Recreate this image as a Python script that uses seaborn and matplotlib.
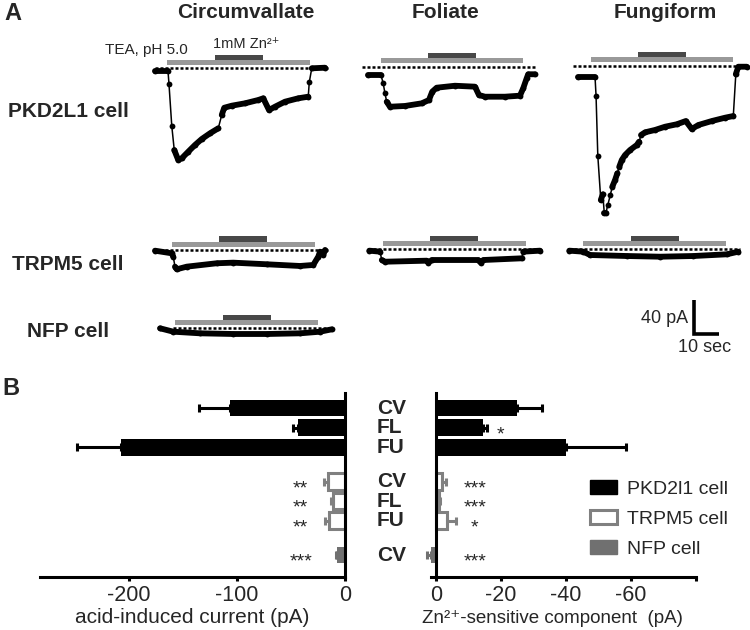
import matplotlib
matplotlib.use("Agg")
import matplotlib.pyplot as plt
import numpy as np
import pandas as pd
import seaborn as sns
from matplotlib.patches import Patch

# ---- panel A: representative current traces (time in s, current in pA) ----
CV_PKD_T = [0, 5.2, 5.6, 6.7, 7.7, 9.3, 10.7, 13.3, 16.0, 18.7, 22.0, 25.3, 26.7, 27.7,
            30.7, 36.0, 41.3, 43.3, 45.6, 48.0, 52.0, 57.3, 61.3, 61.7, 62.7, 68.0]
CV_PKD_I = [-3.2, -3.2, -18.8, -67.5, -96.1, -107.9, -105.9, -98.1, -90.2, -83.2, -76.5,
            -70.6, -54.9, -46.4, -44.0, -41.2, -37.3, -35.3, -49.1, -45.2, -39.3, -35.3,
            -33.4, -16.5, 0.0, 0.7]

FL_PKD_T = [2.4, 7.7, 8.6, 9.3, 10.0, 11.3, 17.3, 24.0, 26.9, 28.2, 30.0, 37.3, 45.3,
            46.9, 49.3, 57.3, 63.3, 64.6, 66.0, 66.6, 69.3]
FL_PKD_I = [-9.8, -9.8, -19.5, -31.3, -41.2, -47.1, -46.2, -43.1, -39.2, -29.4, -24.7,
            -22.4, -23.5, -33.3, -35.3, -35.3, -34.1, -25.4, -13.6, -8.9, -8.9]

FU_PKD_T = [1.8, 8.7, 9.1, 9.8, 11.0, 11.8, 12.4, 13.0, 13.8, 14.8, 15.6, 16.7, 17.6,
            18.4, 19.4, 20.7, 22.7, 25.4, 26.3, 27.1, 28.7, 32.7, 36.7, 41.4, 45.0, 47.4,
            50.0, 55.4, 60.7, 64.0, 65.0, 66.0, 69.4]
FU_PKD_I = [-13.6, -13.6, -35.3, -105.9, -158.0, -151.3, -173.6, -173.6, -163.9, -152.1,
            -142.4, -134.5, -126.6, -118.8, -110.9, -105.1, -99.2, -93.3, -89.4, -81.5,
            -78.4, -75.6, -71.8, -68.9, -65.1, -74.5, -69.8, -65.1, -61.2, -59.2, -10.1,
            -1.2, -1.2]

CV_TRPM5_T = [0, 6.7, 7.3, 8.0, 8.7, 12.7, 24.7, 31.3, 44.7, 58.0, 63.3, 65.3, 66.0, 67.3, 68.0]
CV_TRPM5_I = [-0.8, -3.9, -7.9, -19.6, -22.7, -19.6, -15.6, -14.9, -16.8, -18.8, -17.6,
              -7.9, -2.0, -5.9, 0.0]

FL_TRPM5_T = [0.4, 4.7, 5.4, 6.7, 23.4, 24.0, 25.4, 44.0, 45.0, 46.0, 61.4, 62.0, 68.7]
FL_TRPM5_I = [-1.6, -2.8, -12.6, -14.6, -13.4, -15.8, -12.6, -12.6, -15.8, -12.6, -10.6,
              -2.8, -1.6]

FU_TRPM5_T = [0, 5.6, 8.3, 23.0, 36.3, 49.6, 63.0, 67.6]
FU_TRPM5_I = [-1.6, -2.8, -6.7, -7.9, -8.7, -7.9, -5.9, -2.8]

CV_NFP_T = [-5.3, 0, 10.7, 24.0, 37.4, 50.7, 58.7, 63.4]
CV_NFP_I = [0, -4.0, -5.9, -6.7, -6.7, -5.9, -4.0, -1.2]

# solution application windows (s): TEA pH 5.0 and 1 mM Zn2+
TEA_WIN = [(4.8, 62.0), (7.7, 64.5), (7.1, 64.0), (6.7, 64.0), (5.8, 63.0), (5.6, 62.6), (0.7, 58.0)]
ZN_WIN = [(24.0, 43.2), (26.6, 45.6), (26.0, 45.0), (25.6, 44.7), (24.7, 44.0), (24.6, 43.9), (19.8, 39.0)]
BASE_SPAN = [69.2, 70.0, 69.4, 69.2, 68.7, 68.3, 64.0]

# ---- panel B: summary bars ----
GLANDS = ["CV", "FL", "FU", "CV", "FL", "FU", "CV"]
CELLS = ["PKD2l1 cell"] * 3 + ["TRPM5 cell"] * 3 + ["NFP cell"]
CELL_ORDER = ["PKD2l1 cell", "TRPM5 cell", "NFP cell"]
ACID_MEAN = [-106, -43, -207, -16, -11, -15, -7]
ACID_SEM = [29, 5, 41, 3, 2, 3.5, 1]
ZN_MEAN = [-25, -14.5, -40, -2, -1, -3.3, 1.5]
ZN_SEM = [7.5, 1.2, 18.5, 1, 0.3, 3, 1.2]
ACID_STARS = ["", "", "", "**", "**", "**", "***"]
ZN_STARS = ["", "*", "", "***", "***", "*", "***"]

sns.set_style("ticks")
plt.rcParams["font.family"] = ["Liberation Sans", "DejaVu Sans"]

W, H = 750, 630
fig = plt.figure(figsize=(7.5, 6.3), dpi=100)


def fx(px):
    return px / W


def fy(py):
    return 1 - py / H


# trace scale: pixels per second and per pA
PX_S = 2.5
PX_PA = 0.85
T_LO, T_HI = -10, 80
I_LO, I_HI = -200, 25
LIGHT = "#999999"
DARK = "#484848"


def draw_trace(x0, base, t, cur, span, tea, zn):
    ax = fig.add_axes([fx(x0 + T_LO * PX_S), fy(base - I_LO * PX_PA),
                       (T_HI - T_LO) * PX_S / W, (I_HI - I_LO) * PX_PA / H])
    ax.set_xlim(T_LO, T_HI)
    ax.set_ylim(I_LO, I_HI)
    ax.axis("off")
    ax.patch.set_alpha(0)

    ax.broken_barh([(tea[0], tea[1] - tea[0])], (4.0, 6.0), facecolors=LIGHT, linewidth=0)
    ax.broken_barh([(zn[0], zn[1] - zn[0])], (10.0, 6.0), facecolors=DARK, linewidth=0)
    ax.plot([0, span], [0, 0], color="k", lw=1.8, ls=(0, (1.2, 0.8)), zorder=4)

    t = np.array(t, dtype=float)
    cur = np.array(cur, dtype=float)
    sns.lineplot(x=t, y=cur, ax=ax, color="k", linewidth=1.1, marker="o",
                 markersize=4.2, markeredgewidth=0, estimator=None, sort=False)

    # slow parts of the record look like a thick band of overlapping samples
    slow = np.abs(np.diff(cur) / np.diff(t)) < 9
    i = 0
    while i < len(slow):
        if slow[i]:
            j = i
            while j < len(slow) and slow[j]:
                j += 1
            ax.plot(t[i:j + 1], cur[i:j + 1], color="k", lw=4.2,
                    solid_capstyle="round", solid_joinstyle="round")
            i = j
        else:
            i += 1
    return ax


traces = [
    (155.0, 68.3, CV_PKD_T, CV_PKD_I),
    (361.7, 66.7, FL_PKD_T, FL_PKD_I),
    (573.3, 65.7, FU_PKD_T, FU_PKD_I),
    (155.0, 250.0, CV_TRPM5_T, CV_TRPM5_I),
    (368.3, 249.3, FL_TRPM5_T, FL_TRPM5_I),
    (569.3, 249.3, FU_TRPM5_T, FU_TRPM5_I),
    (173.3, 328.3, CV_NFP_T, CV_NFP_I),
]
trace_axes = []
for k, (x0, base, t, cur) in enumerate(traces):
    trace_axes.append(draw_trace(x0, base, t, cur, BASE_SPAN[k], TEA_WIN[k], ZN_WIN[k]))

# scale bar: 40 pA / 10 sec
sb = trace_axes[5]
sb.plot([50, 50, 60], [-59.6, -99.6, -99.6], color="k", lw=2.6,
        solid_joinstyle="miter", solid_capstyle="butt")
sb.text(47.5, -87.1, "40 pA", ha="right", va="baseline", fontsize=13)
sb.text(54.3, -120.5, "10 sec", ha="center", va="baseline", fontsize=13)

fig.text(fx(188), fy(54), "TEA, pH 5.0", ha="right", va="baseline", fontsize=11)
fig.text(fx(213), fy(48), "1mM Zn²⁺", ha="left", va="baseline", fontsize=10.5)

fig.text(fx(4), fy(20), "A", fontsize=17, fontweight="bold", va="baseline")
fig.text(fx(2), fy(395), "B", fontsize=17, fontweight="bold", va="baseline")
for name, cx in [("Circumvallate", 246), ("Foliate", 445), ("Fungiform", 665)]:
    fig.text(fx(cx), fy(18.3), name, ha="center", va="baseline", fontsize=15, fontweight="bold")
for name, by in [("PKD2L1 cell", 116.7), ("TRPM5 cell", 270), ("NFP cell", 336.7)]:
    fig.text(fx(68), fy(by), name, ha="center", va="baseline", fontsize=15, fontweight="bold")

# ---- panel B ----
POS = [0, 1, 2, 3.75, 4.75, 5.75, 7.5]
df = pd.DataFrame({"pos": POS, "gland": GLANDS, "cell": CELLS,
                   "acid": ACID_MEAN, "acid_sem": ACID_SEM,
                   "zn": ZN_MEAN, "zn_sem": ZN_SEM})
palette = {"PKD2l1 cell": "black", "TRPM5 cell": "white", "NFP cell": "#707070"}
err_colors = {"PKD2l1 cell": "black", "TRPM5 cell": "#808080", "NFP cell": "#707070"}
YLIM = (8.62, -0.77)


def bar_panel(ax, col, sem_col):
    sns.barplot(data=df, x=col, y="pos", hue="cell", hue_order=CELL_ORDER,
                palette=palette, orient="h", native_scale=True, dodge=False,
                width=0.85, errorbar=None, legend=False, linewidth=0, ax=ax)
    for bar in ax.patches:
        bar.set_clip_on(False)
        if tuple(bar.get_facecolor()[:3]) == (1.0, 1.0, 1.0):
            bar.set_edgecolor("#808080")
            bar.set_linewidth(2.2)
    for cell in CELL_ORDER:
        sub = df[df["cell"] == cell]
        neg = sub[col] < 0
        lo = np.where(neg, sub[sem_col], 0)
        hi = np.where(neg, 0, sub[sem_col])
        ax.errorbar(sub[col], sub["pos"], xerr=[lo, hi], fmt="none",
                    ecolor=err_colors[cell], elinewidth=2.2, capsize=2.9,
                    capthick=2.2, clip_on=False)
    ax.set_ylim(*YLIM)
    ax.set_yticks([])
    ax.set_ylabel("")
    ax.tick_params(axis="x", width=2.2, length=3, labelsize=15.5, pad=3, color="k")
    for s in ax.spines.values():
        s.set_linewidth(2.2)
        s.set_color("k")


axL = fig.add_axes([fx(40), fy(577), (345 - 40) / W, (577 - 393) / H])
bar_panel(axL, "acid", "acid_sem")
axL.set_xlim(-282, 0)
sns.despine(ax=axL, left=True, right=False)
axL.set_xticks([-200, -100, 0], ["-200", "-100", "0"])
axL.set_xlabel("acid-induced current (pA)", fontsize=15, labelpad=1.5)
for p, s in zip(POS, ACID_STARS):
    if s:
        axL.text(-41, p + 0.36, s, ha="center", va="center", fontsize=14)

axR = fig.add_axes([fx(431), fy(577), (696 - 431) / W, (577 - 393) / H])
bar_panel(axR, "zn", "zn_sem")
axR.set_xlim(1.5, -80)
sns.despine(ax=axR)
axR.spines["left"].set_position(("data", 0))
axR.set_xticks([0, -20, -40, -60, -80], ["0", "-20", "-40", "-60", ""])
axR.set_xlabel("Zn²⁺-sensitive component  (pA)", fontsize=13.5, labelpad=2.5, x=0.457)
zn_star_x = [0, -20, 0, -12, -12, -12, -12]
for p, s, sx in zip(POS, ZN_STARS, zn_star_x):
    if s:
        axR.text(sx, p + 0.36, s, ha="center", va="center", fontsize=14)
for p, g in zip(POS, GLANDS):
    axR.text(-0.204, p + 0.28, g, transform=axR.get_yaxis_transform(),
             ha="left", va="baseline", fontsize=15, fontweight="bold")

handles = [Patch(facecolor="black", edgecolor="black"),
           Patch(facecolor="white", edgecolor="#808080", linewidth=2.2),
           Patch(facecolor="#707070", edgecolor="#707070")]
fig.legend(handles, CELL_ORDER, loc="center left", bbox_to_anchor=(fx(590), fy(519)),
           frameon=False, fontsize=14, handlelength=1.4, handleheight=0.75,
           handletextpad=0.5, labelspacing=0.62, borderpad=0, borderaxespad=0)

fig.savefig("out.png", dpi=100)
